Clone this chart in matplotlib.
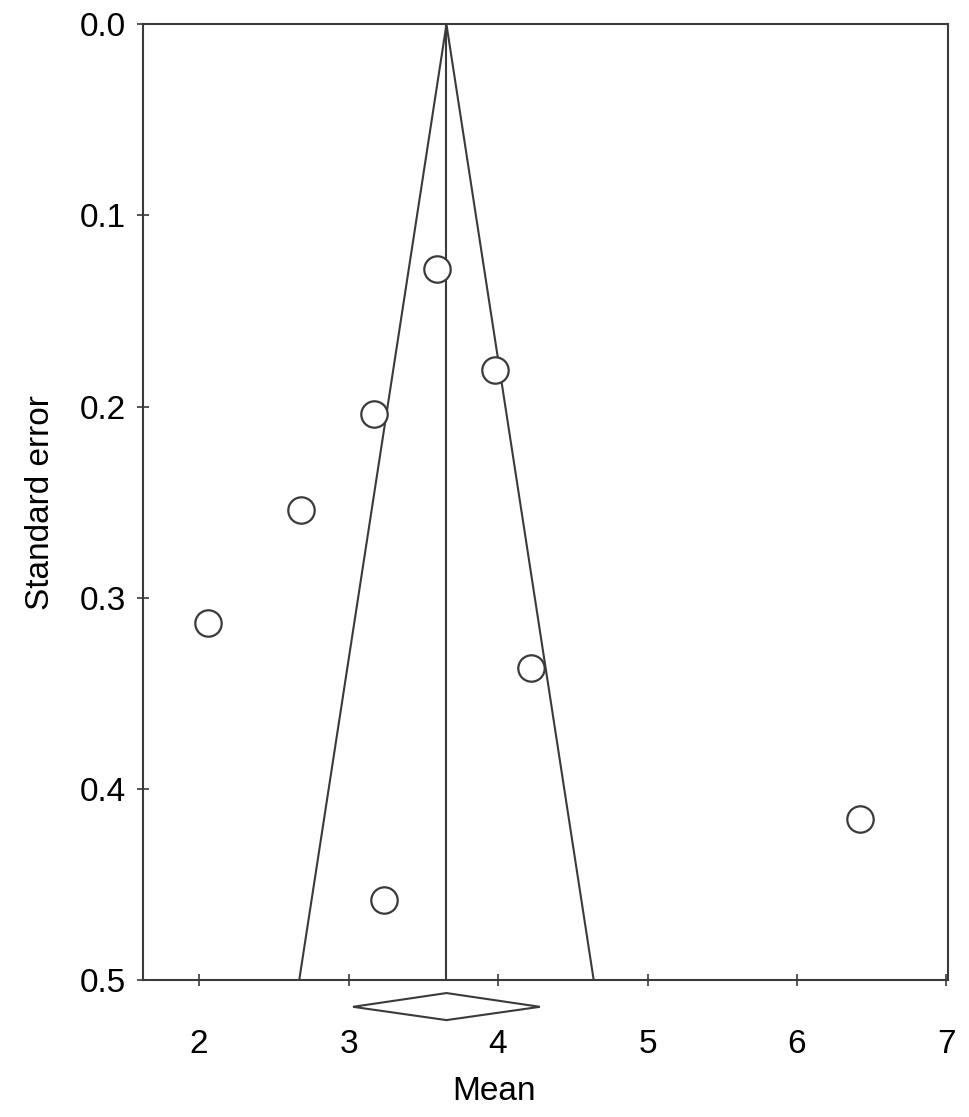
import numpy as np
import matplotlib
matplotlib.use("Agg")
import matplotlib.pyplot as plt
from matplotlib.patches import Polygon
import matplotlib.transforms as mtransforms

plt.rcParams['font.family'] = ['Liberation Sans', 'DejaVu Sans']

# study estimates
study_mean = [3.59, 3.98, 3.17, 2.68, 2.06, 4.22, 6.42, 3.24]
study_se = [0.128, 0.181, 0.204, 0.254, 0.313, 0.337, 0.416, 0.458]

pooled_mean = 3.655
funnel_lo = 2.67     # funnel edges at SE = 0.5
funnel_hi = 4.64
ci_lo = 3.03         # pooled estimate diamond
ci_hi = 4.28

x_ticks = [2, 3, 4, 5, 6, 7]
y_ticks = [0.0, 0.1, 0.2, 0.3, 0.4, 0.5]

LC = "#3a3a3a"

fig = plt.figure(figsize=(9.69, 11.17), dpi=100)
ax = fig.add_axes([0.1476, 0.1226, 0.9783 - 0.1476, 0.9782 - 0.1226])

# funnel
ax.plot([pooled_mean, pooled_mean], [0.0, 0.5], color=LC, lw=1.5)
ax.plot([funnel_lo, pooled_mean, funnel_hi], [0.5, 0.0, 0.5], color=LC, lw=1.5)

ax.plot(study_mean, study_se, "o", ms=19, mfc="white", mec=LC, mew=1.6,
        clip_on=False, zorder=3)

# pooled diamond below the axis
trans = mtransforms.blended_transform_factory(ax.transData, ax.transAxes)
diamond = Polygon([(ci_lo, -0.028), (pooled_mean, -0.0136), (ci_hi, -0.028),
                   (pooled_mean, -0.0419)], closed=True, fill=False,
                  edgecolor=LC, lw=1.5, transform=trans, clip_on=False)
ax.add_patch(diamond)

ax.set_xlim(1.625, 7.01)
ax.set_ylim(0.5, 0.0)
ax.set_xticks(x_ticks)
ax.set_yticks(y_ticks)
ax.set_yticklabels([f"{v:.1f}" for v in y_ticks])

for s in ax.spines.values():
    s.set_color(LC)
    s.set_linewidth(1.5)
ax.tick_params(axis="both", direction="inout", length=9, width=1.2,
               color=LC, labelsize=24)
ax.tick_params(axis="x", pad=31)
ax.tick_params(axis="y", pad=8)

ax.set_xlabel("Mean", fontsize=24)
ax.xaxis.set_label_coords(0.436, -0.100)
ax.set_ylabel("Standard error", fontsize=24, labelpad=17)

fig.savefig("out.png", dpi=100)
